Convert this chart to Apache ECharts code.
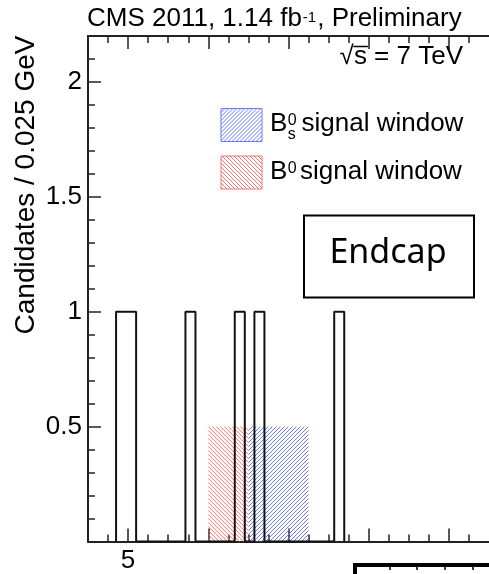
<!DOCTYPE html>
<html><head><meta charset="utf-8">
<script src="https://cdn.jsdelivr.net/npm/echarts@6/dist/echarts.min.js"></script>
<style>html,body{margin:0;padding:0;background:#fff}#c{width:489px;height:574px}</style>
</head><body><div id="c"></div>
<script>
// ---- data ----
const binLowEdges = [4.970, 4.995, 5.143, 5.266, 5.315, 5.514];   // GeV, lower edges of filled bins
const binCounts   = [1, 1, 1, 1, 1, 1];
const binWidth    = 0.025;
const b0Window    = [5.20, 5.30];
const bsWindow    = [5.30, 5.45];
const windowHeight = 0.5;
const xMajorTicks = [5.0, 5.2, 5.4, 5.6, 5.8];
const xMinorTicks = [4.95, 5.05, 5.1, 5.15, 5.25, 5.3, 5.35, 5.45, 5.5, 5.55, 5.65, 5.7, 5.75, 5.85];
const xLabelValues = [5.0];
const yMajorTicks = [0.5, 1, 1.5, 2];
const yMinorTicks = [0.1,0.2,0.3,0.4,0.6,0.7,0.8,0.9,1.1,1.2,1.3,1.4,1.6,1.7,1.8,1.9,2.1];
const titleParts = ['CMS 2011, 1.14 fb', '-1', ', Preliminary'];
const energyText = '√s = 7 TeV';
const yTitle = 'Candidates / 0.025 GeV';
const legendNames = ['signal window', 'signal window'];
const regionLabel = 'Endcap';

// ---- helpers ----
const FONT = '"Liberation Sans", Arial, Helvetica, sans-serif';
const BLUE = '#6a7bff', RED = '#ff7272';
const mctx = document.createElement('canvas').getContext('2d');
function tw(t, size, fam) { mctx.font = size + 'px ' + (fam || FONT); return mctx.measureText(t).width; }
// 45-degree hatch lines clipped to a rectangle (period 4 px)
function hatchLines(x0, y0, w, h, dir, color) {
  const x1 = x0 + w, y1 = y0 + h, out = [], step = 4;
  if (dir === '/') { // x + y = c
    for (let c = x0 + y0; c <= x1 + y1; c += step) {
      const xa = Math.max(x0, c - y1), xb = Math.min(x1, c - y0);
      if (xb > xa) out.push({ type: 'line', shape: { x1: xa, y1: c - xa, x2: xb, y2: c - xb }, style: { stroke: color, lineWidth: 1 } });
    }
  } else { // y - x = c
    for (let c = y0 - x1; c <= y1 - x0; c += step) {
      const xa = Math.max(x0, y0 - c), xb = Math.min(x1, y1 - c);
      if (xb > xa) out.push({ type: 'line', shape: { x1: xa, y1: xa + c, x2: xb, y2: xb + c }, style: { stroke: color, lineWidth: 1 } });
    }
  }
  return out;
}

function histOutline() {
  const pts = []; let prevHigh = null;
  for (let i = 0; i < binLowEdges.length; i++) {
    const lo = binLowEdges[i], hi = lo + binWidth, v = binCounts[i];
    if (prevHigh !== null && Math.abs(lo - prevHigh) < 1e-6) pts.push([lo, v]);
    else { if (prevHigh !== null) pts.push([prevHigh, 0]); pts.push([lo, 0]); pts.push([lo, v]); }
    pts.push([hi, v]); prevHigh = hi;
  }
  pts.push([prevHigh, 0]);
  return pts;
}

const AX = '#222';
function xAx(pos, ticks, len, line, labels) {
  return { type: 'value', min: 4.9, max: 5.9, position: pos,
    axisLine: { show: line, onZero: false, lineStyle: { color: AX, width: 2 } },
    axisTick: { show: true, inside: true, length: len, customValues: ticks, lineStyle: { color: AX, width: 1.5 } },
    axisLabel: labels ? { show: true, customValues: xLabelValues, fontSize: 26, fontFamily: FONT, color: '#000', margin: 6,
        formatter: v => String(Math.round(v * 10) / 10) } : { show: false },
    splitLine: { show: false } };
}
function yAx(ticks, len, labels) {
  return { type: 'value', min: 0, max: 2.2, position: 'left',
    axisLine: { show: labels, onZero: false, lineStyle: { color: AX, width: 2 } },
    axisTick: { show: true, inside: true, length: len, customValues: ticks, lineStyle: { color: AX, width: 1.5 } },
    axisLabel: labels ? { show: true, customValues: yMajorTicks, fontSize: 26, fontFamily: FONT, color: '#000', margin: 6,
        formatter: v => String(v) } : { show: false },
    splitLine: { show: false } };
}

// ---- text graphics ----
const graphics = [];
function txt(t, x, y, size, opts) {
  opts = opts || {};
  graphics.push({ type: 'text', x: x, y: y, rotation: opts.rot || 0, z: 100,
    style: { text: t, font: size + 'px ' + (opts.fam || FONT), fill: '#000',
      align: opts.align || 'left', textAlign: opts.align || 'left',
      verticalAlign: 'middle', textVerticalAlign: 'middle' } });
}
// title
let tx = 87;
txt(titleParts[0], tx, 18.8, 26); tx += tw(titleParts[0], 26) + 1;
txt(titleParts[1], tx, 17.5, 15); tx += tw(titleParts[1], 15) + 1;
txt(titleParts[2], tx, 18.8, 26);
// sqrt(s)
const eW = tw(energyText, 26), eL = 463 - eW;
txt(energyText, 463, 57, 26, { align: 'right' });
const sqW = tw('√', 26), sW = tw('s', 26);
graphics.push({ type: 'line', z: 100, shape: { x1: eL + sqW - 0.5, y1: 46.5, x2: eL + sqW + sW + 1, y2: 46.5 }, style: { stroke: '#000', lineWidth: 1.5 } });
// y title
txt(yTitle, 26, 185, 28, { rot: Math.PI / 2, align: 'center' });
// legend keys
graphics.push({ type: 'group', z: 100, children: hatchLines(221, 108.5, 41, 33, '/', BLUE)
  .concat([{ type: 'rect', shape: { x: 221, y: 108.5, width: 41, height: 33 }, style: { fill: 'none', stroke: BLUE, lineWidth: 1 } }]) });
graphics.push({ type: 'group', z: 100, children: hatchLines(221, 156, 41, 33, '\\', RED)
  .concat([{ type: 'rect', shape: { x: 221, y: 156, width: 41, height: 33 }, style: { fill: 'none', stroke: RED, lineWidth: 1 } }]) });
let lx = 270;
txt('B', lx, 124.2, 26); lx += tw('B', 26);
txt('0', lx + 0.5, 120.9, 16); txt('s', lx + 0.5, 134.5, 16);
txt(legendNames[0], 301.5, 124.2, 26);
lx = 270;
txt('B', lx, 171.5, 26); lx += tw('B', 26);
txt('0', lx + 0.5, 168.2, 16);
txt(legendNames[1], 300, 171.5, 26);
// Endcap box
graphics.push({ type: 'rect', z: 100, shape: { x: 304, y: 215.5, width: 170, height: 82 }, style: { fill: '#fff', stroke: '#000', lineWidth: 2 } });
txt(regionLabel, 388, 253, 34, { align: 'center', fam: '"Noto Sans", "DejaVu Sans", sans-serif' });
// neighbouring panel frame corner visible at bottom right of the crop
graphics.push({ type: 'rect', z: 100, shape: { x: 353, y: 563, width: 136, height: 4 }, style: { fill: '#000' } });
graphics.push({ type: 'rect', z: 100, shape: { x: 353, y: 563, width: 4, height: 11 }, style: { fill: '#000' } });
[390, 417, 445, 473].forEach(x => graphics.push({ type: 'line', z: 100, shape: { x1: x, y1: 567, x2: x, y2: 570 }, style: { stroke: '#000', lineWidth: 1.5 } }));

const chart = echarts.init(document.getElementById('c'), null, { renderer: 'canvas' });
chart.setOption({
  animation: false,
  backgroundColor: '#fff',
  grid: { left: 88, top: 36, width: 408, height: 505.5, containLabel: false },
  xAxis: [ xAx('bottom', xMajorTicks, 13, true, true), xAx('bottom', xMinorTicks, 7, false, false),
           xAx('top', xMajorTicks, 13, true, false), xAx('top', xMinorTicks, 7, false, false) ],
  yAxis: [ yAx(yMajorTicks, 13, true), yAx(yMinorTicks, 7, false) ],
  series: [
    { type: 'custom', xAxisIndex: 0, yAxisIndex: 0, z: 1,
      data: [[bsWindow[0], bsWindow[1], windowHeight, 0], [b0Window[0], b0Window[1], windowHeight, 1]],
      renderItem: (params, api) => {
        const p0 = api.coord([api.value(0), api.value(2)]), p1 = api.coord([api.value(1), 0]);
        const isBs = api.value(3) === 0;
        return { type: 'group',
          children: hatchLines(p0[0], p0[1], p1[0] - p0[0], p1[1] - p0[1], isBs ? '/' : '\\', isBs ? BLUE : RED) };
      } },
    { type: 'line', xAxisIndex: 0, yAxisIndex: 0, z: 5, data: histOutline(), showSymbol: false, symbol: 'none',
      lineStyle: { color: '#111', width: 2 }, silent: true }
  ],
  graphic: graphics
});
</script></body></html>
